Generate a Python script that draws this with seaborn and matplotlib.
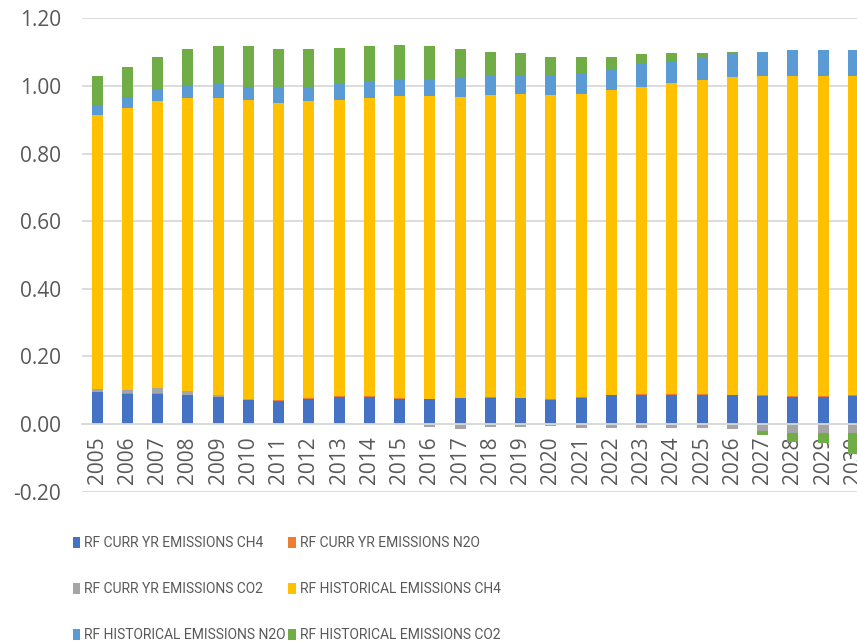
import numpy as np
import matplotlib
matplotlib.use("Agg")
import matplotlib.pyplot as plt
import seaborn as sns
from matplotlib.patches import Patch

years = [str(y) for y in range(2005, 2031)]

curr_ch4 = [0.094, 0.090, 0.090, 0.086, 0.079, 0.071, 0.068, 0.075, 0.079, 0.079,
            0.075, 0.074, 0.077, 0.077, 0.077, 0.070, 0.077, 0.085, 0.086, 0.085,
            0.085, 0.085, 0.082, 0.079, 0.079, 0.082]
curr_n2o = [0.001, 0.001, 0.001, 0.001, 0.001, 0.001, 0.002, 0.003, 0.003, 0.003,
            0.003, 0.001, 0.001, 0.002, 0.001, 0.003, 0.002, 0.002, 0.003, 0.003,
            0.003, 0.001, 0.004, 0.003, 0.003, 0.003]
curr_co2 = [0.010, 0.009, 0.015, 0.011, 0.006, 0.002, 0.000, 0.000, 0.000, 0.000,
            -0.002, -0.009, -0.016, -0.009, -0.009, -0.007, -0.011, -0.011, -0.011, -0.011,
            -0.011, -0.016, -0.020, -0.025, -0.025, -0.026]
hist_ch4 = [0.810, 0.835, 0.848, 0.866, 0.878, 0.884, 0.879, 0.876, 0.876, 0.882,
            0.891, 0.894, 0.890, 0.893, 0.897, 0.899, 0.896, 0.900, 0.909, 0.922,
            0.929, 0.939, 0.943, 0.947, 0.947, 0.944]
hist_n2o = [0.030, 0.032, 0.036, 0.038, 0.042, 0.040, 0.046, 0.044, 0.048, 0.050,
            0.049, 0.049, 0.057, 0.057, 0.057, 0.060, 0.062, 0.060, 0.066, 0.064,
            0.068, 0.072, 0.072, 0.076, 0.076, 0.076]
hist_co2 = [0.084, 0.089, 0.096, 0.107, 0.111, 0.119, 0.114, 0.111, 0.107, 0.103,
            0.103, 0.099, 0.084, 0.072, 0.065, 0.053, 0.048, 0.038, 0.029, 0.023,
            0.012, 0.004, -0.012, -0.027, -0.031, -0.062]

series = [
    ("RF CURR YR EMISSIONS CH4", curr_ch4, "#4472C4"),
    ("RF CURR YR EMISSIONS N2O", curr_n2o, "#ED7D31"),
    ("RF CURR YR EMISSIONS CO2", curr_co2, "#A5A5A5"),
    ("RF HISTORICAL EMISSIONS CH4", hist_ch4, "#FFC000"),
    ("RF HISTORICAL EMISSIONS N2O", hist_n2o, "#5B9BD5"),
    ("RF HISTORICAL EMISSIONS CO2", hist_co2, "#70AD47"),
]

sns.set_theme(style="white")
plt.rcParams['font.family'] = ['Open Sans', 'DejaVu Sans']
txt = "#595959"

fig = plt.figure(figsize=(8.57, 6.44), dpi=100)
# right edge runs past the figure, like the cropped original
ax = fig.add_axes([82 / 857, 1 - 491.7 / 644, 786.5 / 857, 473.4 / 644])

pos_base = np.zeros(len(years))
neg_base = np.zeros(len(years))
for label, vals, col in series:
    v = np.array(vals)
    base = np.where(v >= 0, pos_base, neg_base)
    sns.barplot(x=years, y=v, bottom=base, color=col, width=0.36, saturation=1,
                linewidth=0, ax=ax)
    pos_base += np.clip(v, 0, None)
    neg_base += np.clip(v, None, 0)

ax.set_xlim(-0.5, len(years) - 0.5)
ax.set_ylim(-0.2, 1.2)
yt = np.round(np.arange(-0.2, 1.21, 0.2), 2)
ax.set_yticks(yt)
ax.set_yticklabels([f"{t:.2f}" for t in yt])
ax.set_xlabel("")
ax.set_ylabel("")

ax.yaxis.grid(True, color="#d9d9d9", linewidth=1.3)
ax.xaxis.grid(False)
ax.set_axisbelow(True)
for s in ["top", "right", "left"]:
    ax.spines[s].set_visible(False)
ax.spines["bottom"].set_position(("data", 0))
ax.spines["bottom"].set_color("#d9d9d9")
ax.spines["bottom"].set_linewidth(1.3)

ax.tick_params(axis="x", length=0, pad=9, labelsize=15, labelcolor=txt, labelrotation=90)
ax.tick_params(axis="y", length=0, pad=15, labelsize=15, labelcolor=txt)

# legend filled row by row, like the original
order = [0, 2, 4, 1, 3, 5]
handles = [Patch(facecolor=series[i][2], edgecolor="none") for i in order]
labels = [series[i][0] for i in order]
fig.legend(handles, labels, ncol=2, loc="upper left",
           bbox_to_anchor=(72.7 / 857, 1 - 536 / 644), frameon=False,
           borderpad=0, borderaxespad=0, handlelength=0.53, handleheight=0.86,
           handletextpad=0.29, columnspacing=0.2, labelspacing=2.3,
           labelcolor=txt, prop={"family": "Roboto", "size": 10})

fig.savefig("out.png", dpi=100)
